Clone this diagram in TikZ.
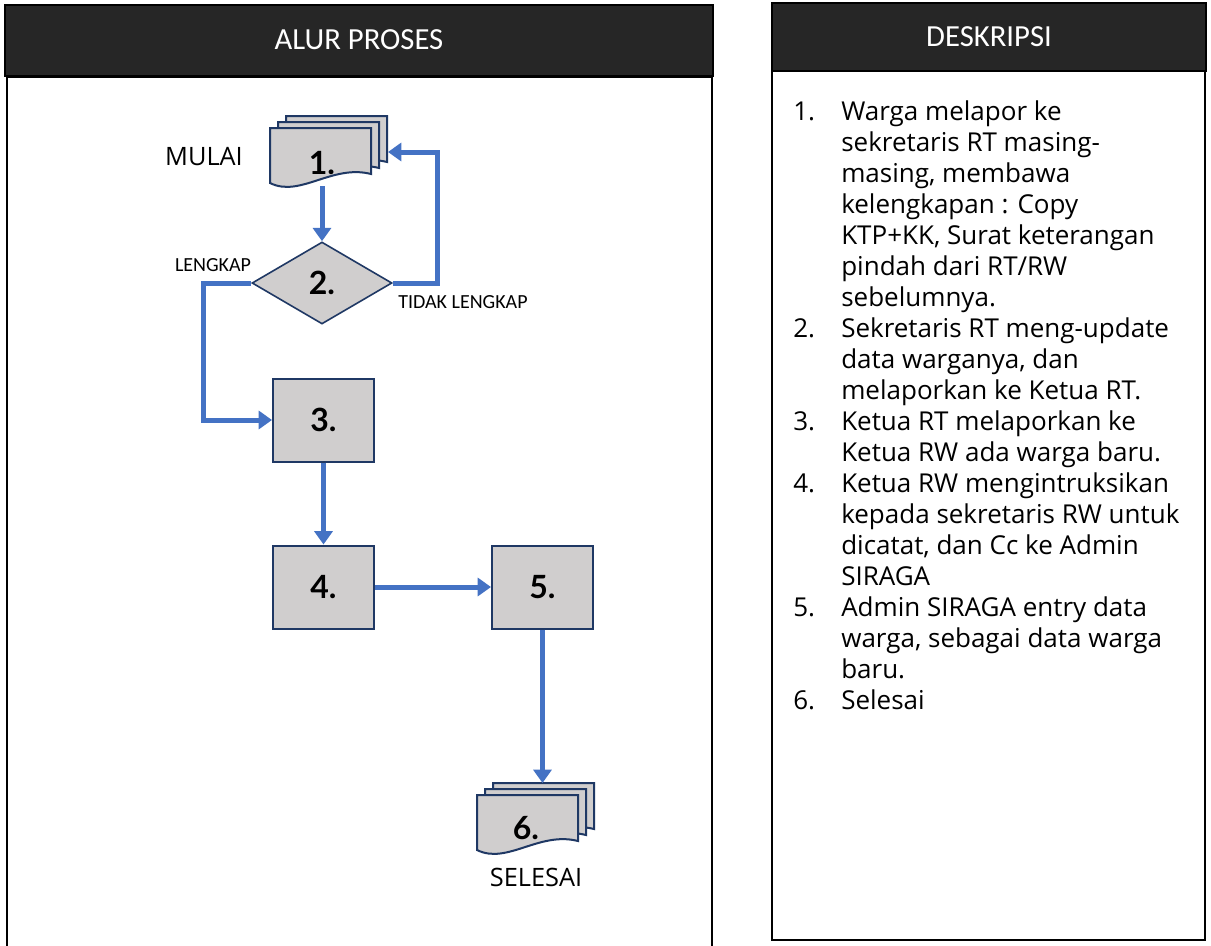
\documentclass[tikz,border=0pt]{standalone}
\usepackage{fontspec}
\setmainfont{Lato}
\newfontfamily\headfont{Carlito}
\newfontfamily\descfont{Open Sans}
\usetikzlibrary{shapes.geometric,arrows.meta}

\definecolor{headgray}{RGB}{38,38,38}
\definecolor{boxfill}{RGB}{208,206,206}
\definecolor{boxline}{RGB}{31,56,100}
\definecolor{flowblue}{RGB}{68,114,196}

\tikzset{
  panel/.style={draw=black, line width=1.9pt, fill=white},
  panelhead/.style={draw=black, line width=1.9pt, fill=headgray},
  headtext/.style={text=white, inner sep=0pt, font=\headfont\fontsize{23}{27}\selectfont},
  proc/.style={draw=boxline, fill=boxfill, line width=1.5pt, minimum width=75.75pt, minimum height=62.25pt, inner sep=0pt, font=\bfseries\fontsize{24}{28}\selectfont},
  decide/.style={diamond, draw=boxline, fill=boxfill, line width=1.2pt, minimum width=105pt, minimum height=61.5pt, inner sep=0pt, font=\bfseries\fontsize{24}{28}\selectfont},
  sheet/.style={draw=boxline, fill=boxfill, line width=1.5pt},
  docnum/.style={minimum width=75.75pt, minimum height=34.5pt, inner sep=0pt, font=\bfseries\fontsize{24}{28}\selectfont},
  flow/.style={draw=flowblue, line width=3.75pt, -{Triangle[length=10pt,width=13.5pt]}},
  branch/.style={inner sep=0pt, font=\headfont\fontsize{15}{18}\selectfont},
  term/.style={inner sep=0pt, font=\descfont\fontsize{19}{23}\selectfont},
}

\begin{document}
\begin{tikzpicture}[x=0.75pt,y=0.75pt,yscale=-1,xscale=1]
\useasboundingbox (0,0) rectangle (1211,946);

%Panel: alur proses
\draw [panel] (7,77) rectangle (712,960) ;
\draw [panelhead] (5,5) rectangle (713,76) ;
\node [headtext] (head1) at (359,40) {ALUR PROSES};

%Panel: deskripsi
\draw [panel] (772,71) rectangle (1205,940) ;
\draw [panelhead] (772,3) rectangle (1206,71) ;
\node [headtext] (head2) at (989,37) {DESKRIPSI};

%Multi document 1
\foreach \dx/\dy in {16/-12, 8/-6, 0/0}
  \draw [sheet, shift={(270+\dx,128+\dy)}] (0,0) -- (101,0) -- (101,46) .. controls (62,36) and (30,70) .. (0,55) -- cycle ;
%Multi document 6
\foreach \dx/\dy in {16/-12, 8/-6, 0/0}
  \draw [sheet, shift={(477+\dx,795+\dy)}] (0,0) -- (101,0) -- (101,46) .. controls (62,36) and (30,70) .. (0,55) -- cycle ;
\coordinate (stack1) at (388,152);
\coordinate (stack6) at (542.5,783);

% Process nodes
\node [docnum] (n1) at (322,163) {1.};
\node [decide] (n2) at (322,283) {2.};
\node [proc] (n3) at (323.5,420) {3.};
\node [proc] (n4) at (323.5,587) {4.};
\node [proc] (n5) at (542.5,587) {5.};
\node [docnum] (n6) at (526,828) {6.};

% Text Node
\node [term] (start) at (204,157) {MULAI};
\node [term] (finish) at (536,877) {SELESAI};
\node [branch] (yes) at (213,265) {LENGKAP};
\node [branch] (no) at (463,302) {TIDAK LENGKAP};

% Connectors
\draw [flow] (n1.south) -- (n2.north) ;
\draw [flow] (n2.east) -- ++(45,0) |- (stack1) ;
\draw [flow] (n2.west) -- ++(-48,0) |- (n3.west) ;
\draw [flow] (n3.south) -- (n4.north) ;
\draw [flow] (n4.east) -- (n5.west) ;
\draw [flow] (n5.south) -- (stack6) ;

% Text Node
\node [anchor=north west, inner sep=0pt, font=\descfont\fontsize{19.5}{23.25}\selectfont] (desc) at (793,98.3) {%
\begin{tabular}{@{}p{36pt}@{}l@{}}
1. & Warga melapor ke\\
   & sekretaris RT masing-\\
   & masing, membawa\\
   & kelengkapan : Copy\\
   & KTP+KK, Surat keterangan\\
   & pindah dari RT/RW\\
   & sebelumnya.\\
2. & Sekretaris RT meng-update\\
   & data warganya, dan\\
   & melaporkan ke Ketua RT.\\
3. & Ketua RT melaporkan ke\\
   & Ketua RW ada warga baru.\\
4. & Ketua RW mengintruksikan\\
   & kepada sekretaris RW untuk\\
   & dicatat, dan Cc ke Admin\\
   & SIRAGA\\
5. & Admin SIRAGA entry data\\
   & warga, sebagai data warga\\
   & baru.\\
6. & Selesai
\end{tabular}};

\end{tikzpicture}
\end{document}
